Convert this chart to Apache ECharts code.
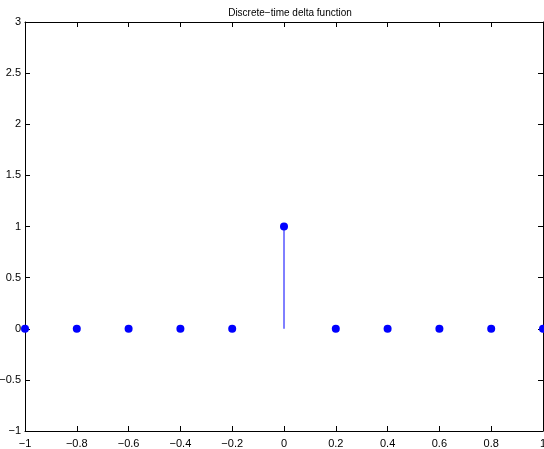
<!DOCTYPE html>
<html>
<head>
<meta charset="utf-8">
<script src="https://cdn.jsdelivr.net/npm/echarts@6/dist/echarts.min.js"></script>
<style>
  html, body { margin: 0; padding: 0; background: #fff; }
  #chart { width: 544px; height: 449px; }
</style>
</head>
<body>
<div id="chart"></div>
<script>
// sample positions and delta values
const nValues = [-1, -0.8, -0.6, -0.4, -0.2, 0, 0.2, 0.4, 0.6, 0.8, 1];
const deltaValues = [0, 0, 0, 0, 0, 1, 0, 0, 0, 0, 0];
const titleText = "Discrete\u2212time delta function";

const font = "'Liberation Sans', Arial, Helvetica, sans-serif";
const points = nValues.map((n, i) => [n, deltaValues[i]]);

// MATLAB uses a real minus sign in tick labels
function fmt(v) {
  const s = String(+v.toFixed(2));
  return s.replace("-", "\u2212");
}

const chart = echarts.init(document.getElementById("chart"));

const axisCommon = {
  type: "value",
  axisLine: { show: true, onZero: false, lineStyle: { color: "#000", width: 1 } },
  axisTick: { show: true, inside: true, length: 5, lineStyle: { color: "#000" } },
  splitLine: { show: false },
};

chart.setOption({
  animation: false,
  title: {
    text: titleText,
    left: 285,
    textAlign: "center",
    top: 3,
    textStyle: { fontFamily: font, fontSize: 10, fontWeight: "normal", color: "#000" },
  },
  grid: { left: 25, right: 1, top: 22, bottom: 18, containLabel: false, outerBoundsMode: "none" },
  xAxis: [
    Object.assign({}, axisCommon, {
      min: -1, max: 1, interval: 0.2, position: "bottom",
      axisLabel: { formatter: fmt, margin: 7, fontFamily: font, fontSize: 11, color: "#000" },
    }),
    Object.assign({}, axisCommon, {
      min: -1, max: 1, interval: 0.2, position: "top",
      axisLabel: { show: false },
    }),
  ],
  yAxis: [
    Object.assign({}, axisCommon, {
      min: -1, max: 3, interval: 0.5, position: "left",
      axisLabel: { formatter: fmt, margin: 4, fontFamily: font, fontSize: 11, color: "#000" },
    }),
    Object.assign({}, axisCommon, {
      min: -1, max: 3, interval: 0.5, position: "right",
      axisLabel: { show: false },
    }),
  ],
  series: [
    {
      // stems from 0 up to each value
      type: "custom",
      data: points,
      clip: false,
      renderItem: function (params, api) {
        const x = api.value(0);
        const y = api.value(1);
        const p0 = api.coord([x, 0]);
        const p1 = api.coord([x, y]);
        return {
          type: "line",
          shape: { x1: p0[0], y1: p0[1], x2: p1[0], y2: p1[1] },
          style: { stroke: "#0000ff", lineWidth: 1 },
        };
      },
      z: 2,
    },
    {
      type: "scatter",
      data: points,
      symbol: "circle",
      symbolSize: 8,
      itemStyle: { color: "#0000ff", opacity: 1 },
      clip: false,
      z: 3,
    },
  ],
});
</script>
</body>
</html>
